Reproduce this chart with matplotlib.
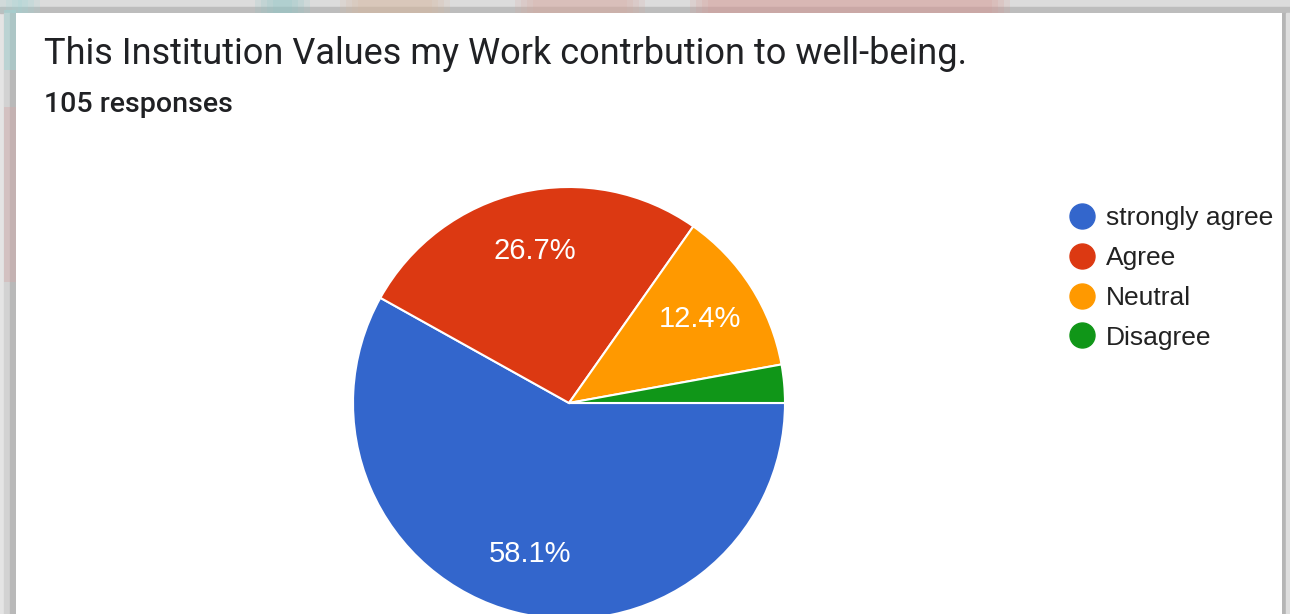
import matplotlib
matplotlib.use("Agg")
import matplotlib.pyplot as plt
from matplotlib.patches import Rectangle
from matplotlib.lines import Line2D

# Survey answers (105 responses)
categories = ['strongly agree', 'Agree', 'Neutral', 'Disagree']
counts = [61, 28, 13, 3]
colors = ['#3366cc', '#dc3912', '#ff9900', '#109618']

title = 'This Institution Values my Work contrbution to well-being.'
subtitle = '105 responses'

W, H = 1290, 614
fig = plt.figure(figsize=(W / 100, H / 100), dpi=100)
fig.patch.set_facecolor('#e4e4e4')
ax = fig.add_axes([0, 0, 1, 1])

# page behind the card: grey edges with faded colour bits
ax.add_patch(Rectangle((0, H - 7), W, 7, color='#dcdcdc', zorder=0))
ax.add_patch(Rectangle((0, H - 13), W, 6, color='#bdbdbd', zorder=0))
for x0, w, c in [(0, 40, '#9fd6d6'), (255, 55, '#8fc6c6'), (340, 110, '#d9b9a0'),
                 (515, 130, '#d9a9a0'), (690, 320, '#d89a96')]:
    for k in range(4):
        ax.add_patch(Rectangle((x0 + 6 * k, H - 13), w - 12 * k, 13, color=c,
                               alpha=0.18, zorder=0.5, lw=0))
ax.add_patch(Rectangle((4, 0), 6, H - 13, color='#d2d2d2', zorder=0))
ax.add_patch(Rectangle((10, 0), 6, H - 13, color='#b9b9b9', zorder=0))
ax.add_patch(Rectangle((4, H - 70), 12, 60, color='#9fd6d6', alpha=0.45, zorder=0.5, lw=0))
ax.add_patch(Rectangle((4, H - 282), 12, 175, color='#d7a9a9', alpha=0.4, zorder=0.5, lw=0))
ax.add_patch(Rectangle((1282, 0), 4, H - 13, color='#b5b5b5', zorder=0))
ax.add_patch(Rectangle((1286, 0), 4, H - 13, color='#dedede', zorder=0))

# white card
ax.add_patch(Rectangle((16, -20), 1266, H - 13 + 20, color='white', zorder=1, lw=0))

ax.text(44, H - 54, title, fontsize=26, family='Roboto', color='#202124',
        va='center', ha='left', zorder=3)
ax.text(44, H - 105, subtitle, fontsize=20.5, family='Roboto', weight='medium',
        color='#202124', va='center', ha='left', zorder=3)


def pct_label(p):
    return f'{p:.1f}%' if p > 5 else ''


wedges, texts, autotexts = ax.pie(
    counts, colors=colors, startangle=0, counterclock=False,
    center=(569, H - 403), radius=216, autopct=pct_label, pctdistance=0.72,
    wedgeprops=dict(edgecolor='white', linewidth=1.5, zorder=2),
    textprops=dict(color='white', fontsize=21, family='Liberation Sans'))
for t in autotexts:
    t.set_zorder(4)

ax.set_xlim(0, W)
ax.set_ylim(0, H)
ax.set_aspect('auto')
ax.axis('off')

handles = [Line2D([], [], marker='o', ls='', markersize=18, color=c) for c in colors]
leg = ax.legend(handles, categories, loc='upper left', frameon=False,
                bbox_to_anchor=(1053, H - 193), bbox_transform=ax.transData,
                prop=dict(family='Liberation Sans', size=19), labelcolor='#222222',
                handletextpad=0.3, labelspacing=0.6, borderpad=0, handlelength=1.2)
leg.set_zorder(5)

fig.savefig('out.png', dpi=100, facecolor=fig.get_facecolor())
